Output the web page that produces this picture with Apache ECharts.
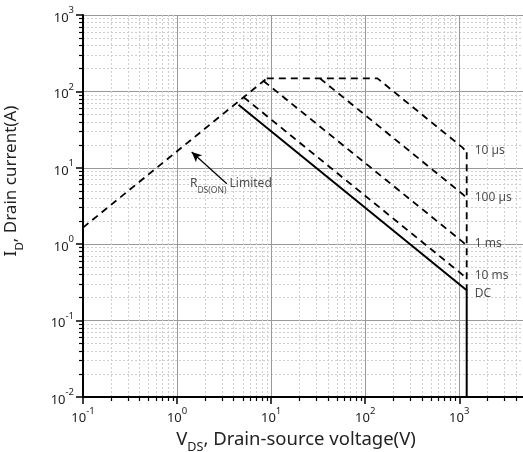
<!DOCTYPE html>
<html><head><meta charset="utf-8">
<script src="https://cdn.jsdelivr.net/npm/echarts@6/dist/echarts.min.js"></script>
<style>html,body{margin:0;padding:0;background:#fff}#c{width:523px;height:452px}</style>
</head><body><div id="c"></div>
<script>
// tick label exponents (labels are 10^exp)
const xTickExps = [-1, 0, 1, 2, 3];
const yTickExps = [-2, -1, 0, 1, 2, 3];
// SOA boundary curves [V_DS (V), I_D (A)]
const rdsLimit = [[0.1, 1.65], [9, 148]];
const us10 = [[9, 148], [135, 148], [1080, 18.5], [1200, 16]];
const us100 = [[33, 148], [1080, 4.55], [1200, 4.0]];
const ms1 = [[8.3, 137], [1080, 1.08], [1200, 0.95]];
const ms10 = [[5.1, 84], [1080, 0.40], [1200, 0.35]];
const dc = [[4.5, 67], [1200, 0.25], [1200, 0.01]];
const pulseEdge = [[1200, 16], [1200, 0.25]];
// curve labels and their anchor points in data space
const curveLabelNames = ['10 µs', '100 µs', '1 ms', '10 ms', 'DC'];
const curveLabelAt = [[1460, 16.9], [1460, 4.13], [1460, 1.03], [1460, 0.389], [1460, 0.228]];
// R_DS(ON) annotation: arrow tail/head and text anchor
const arrowFrom = [3.38, 6.19];
const arrowTo = [1.43, 16.1];
const rdsTextAt = [1.37, 5.7];

const FONT = 'Noto Sans';
const chart = echarts.init(document.getElementById('c'), null, {renderer: 'canvas'});
const supRich = {
  b: {fontSize: 13, fontFamily: FONT, color: '#222', lineHeight: 19, verticalAlign: 'bottom'},
  s: {fontSize: 9.5, fontFamily: FONT, color: '#222', lineHeight: 19, verticalAlign: 'top'}
};
function expLabel(exps) {
  return function (v) {
    const e = Math.round(Math.log10(v));
    if (exps.indexOf(e) < 0 || Math.abs(Math.log10(v) - e) > 1e-6) return '';
    return '{b|10}{s|' + e + '}';
  };
}
const dashed = {color: '#000', width: 1.8, type: [7, 5]};
function line(data, style) {
  return {type: 'line', data: data, symbol: 'none', lineStyle: style, silent: true, z: 5};
}
function titleStyle(size, pad) {
  return {
    fontSize: size, fontFamily: FONT, color: '#222', padding: pad,
    rich: {
      m: {fontSize: size, fontFamily: FONT, color: '#222', lineHeight: size + 6, verticalAlign: 'top'},
      sub: {fontSize: size * 0.68, fontFamily: FONT, color: '#222', lineHeight: size + 6, verticalAlign: 'bottom'}
    }
  };
}
const option = {
  animation: false,
  backgroundColor: '#fff',
  grid: {left: 83, top: 15, bottom: 55, right: -2, containLabel: false, outerBoundsMode: 'none'},
  xAxis: {
    type: 'log', logBase: 10, min: 0.1, max: 5000,
    name: '{m|V}{sub|DS}{m|, Drain-source voltage(V)}', nameLocation: 'middle', nameGap: 30,
    nameTextStyle: titleStyle(18.5, [0, 16, 0, 0]),
    axisLine: {lineStyle: {color: '#000', width: 2}},
    axisTick: {length: 7, lineStyle: {color: '#000', width: 1.5}},
    minorTick: {show: true, splitNumber: 9, length: 4, lineStyle: {color: '#000', width: 1.2}},
    axisLabel: {margin: 9, formatter: expLabel(xTickExps), rich: supRich},
    splitLine: {show: true, lineStyle: {color: '#999', width: 1}},
    minorSplitLine: {show: true, lineStyle: {color: '#cfcfcf', width: 1, type: [2, 2]}}
  },
  yAxis: {
    type: 'log', logBase: 10, min: 0.01, max: 1000,
    name: '{m|I}{sub|D}{m|, Drain current(A)}', nameLocation: 'middle', nameGap: 57, nameRotate: 90,
    nameTextStyle: titleStyle(17, [0, 0, 0, 50]),
    axisLine: {lineStyle: {color: '#000', width: 2}},
    axisTick: {length: 7, lineStyle: {color: '#000', width: 1.5}},
    minorTick: {show: true, splitNumber: 9, length: 4, lineStyle: {color: '#000', width: 1.2}},
    axisLabel: {margin: 9, formatter: expLabel(yTickExps), rich: supRich},
    splitLine: {show: true, lineStyle: {color: '#999', width: 1}},
    minorSplitLine: {show: true, lineStyle: {color: '#cfcfcf', width: 1, type: [2, 2]}}
  },
  series: [
    line(rdsLimit, dashed),
    line(us10, dashed),
    line(us100, dashed),
    line(ms1, dashed),
    line(ms10, dashed),
    line(pulseEdge, dashed),
    line(dc, {color: '#000', width: 2, type: 'solid'}),
    {
      type: 'scatter', symbolSize: 0, silent: true, z: 6,
      data: curveLabelNames.map((n, i) => ({name: n, value: curveLabelAt[i]})),
      label: {show: true, position: 'right', distance: 0, formatter: '{b}',
        fontSize: 12, fontFamily: FONT, color: '#222'}
    },
    {
      type: 'scatter', symbolSize: 0, silent: true, z: 6,
      data: [{name: 'rds', value: rdsTextAt}],
      label: {show: true, position: 'right', distance: 0,
        formatter: '{m|R}{sub|DS(ON)}{m| Limited}',
        rich: {
          m: {fontSize: 12, fontFamily: FONT, color: '#222', lineHeight: 17, verticalAlign: 'top'},
          sub: {fontSize: 8.5, fontFamily: FONT, color: '#222', lineHeight: 17, verticalAlign: 'bottom'}
        }},
      markLine: {
        silent: true, symbol: ['none', 'arrow'], symbolSize: [7, 10],
        lineStyle: {color: '#000', width: 1.2, type: 'solid'},
        label: {show: false},
        data: [[{coord: arrowFrom}, {coord: arrowTo}]]
      }
    }
  ]
};
chart.setOption(option);
</script></body></html>
